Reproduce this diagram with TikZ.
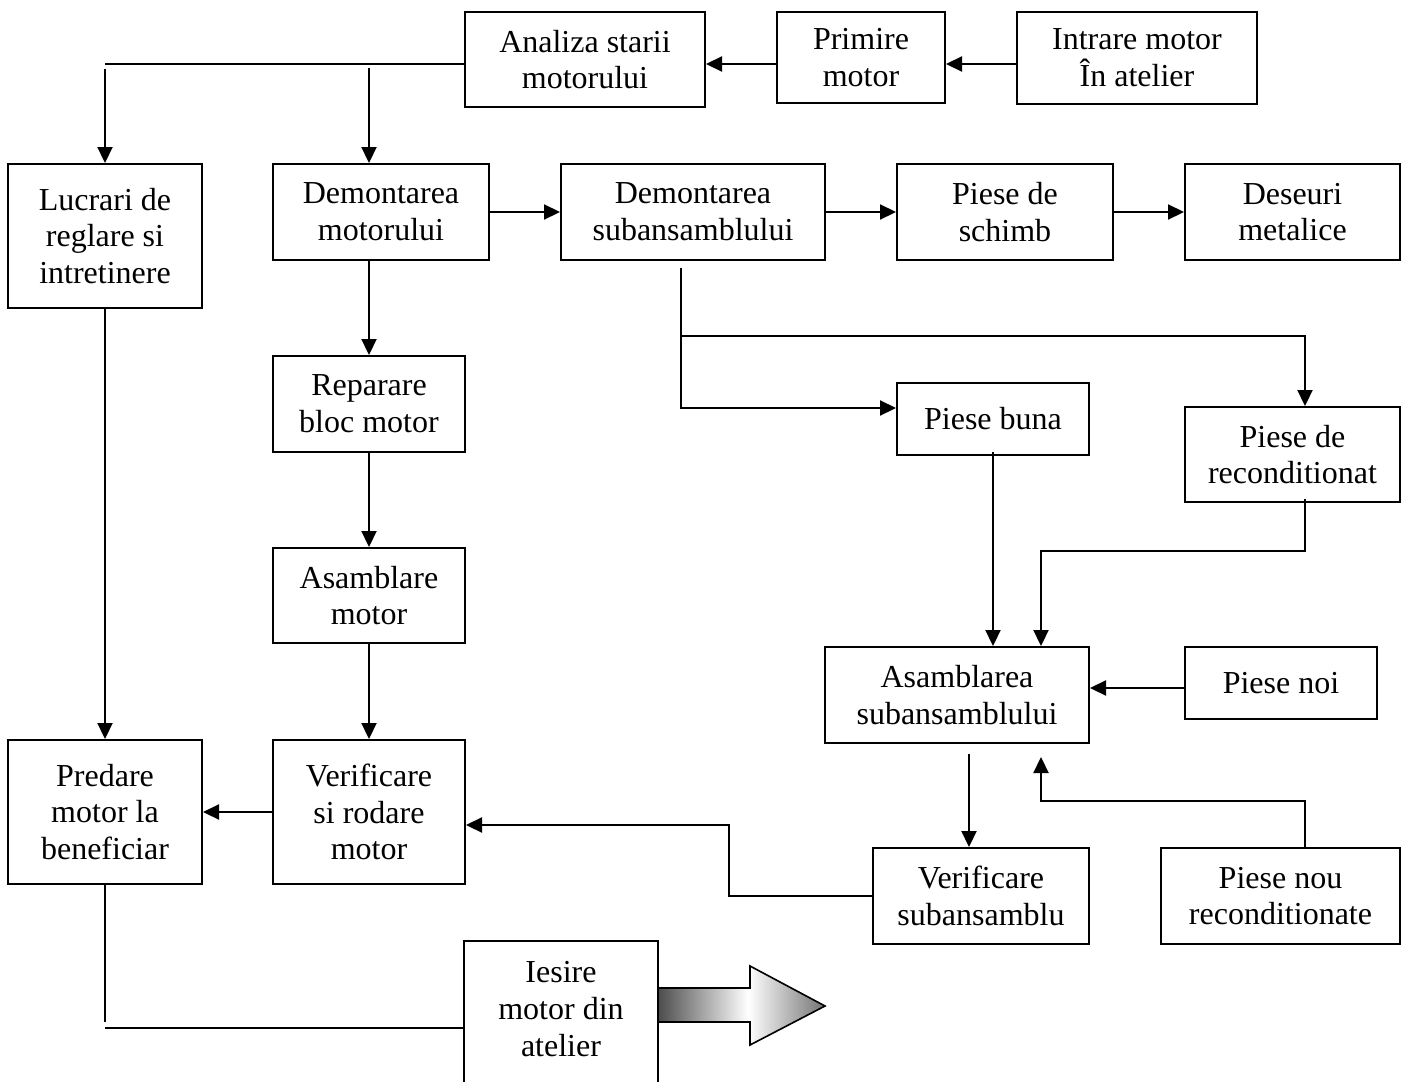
\documentclass[tikz,border=0pt]{standalone}
\usepackage{fontspec}
\setmainfont{Liberation Serif}
\usetikzlibrary{arrows.meta}

% umbrire pentru sageata de iesire
\pgfdeclarehorizontalshading{iesireshade}{100bp}{color(0bp)=(black!70); color(25bp)=(black!70); color(52bp)=(white); color(75bp)=(black!55); color(100bp)=(black!55)}

\tikzset{
  box/.style={draw, line width=1pt, align=center, inner sep=0pt, font=\fontsize{16}{18.4}\selectfont},
  sz/.style 2 args={minimum width=#1*0.5pt, minimum height=#2*0.5pt},
  line/.style={line width=1.1pt},
  arr/.style={line width=1.1pt, -{Triangle[length=8pt,width=7.5pt]}}
}

\begin{document}
\begin{tikzpicture}[x=0.5pt,y=-0.5pt]
\useasboundingbox (0,0) rectangle (1405,1082);
\clip (0,0) rectangle (1405,1082);

% rand de sus
\node[box, sz={240}{95}] (analiza) at (585,59.5) {Analiza starii\\motorului};
\node[box, sz={168}{91}] (primire) at (861,57.5) {Primire\\motor};
\node[box, sz={240}{92}] (intrare) at (1137,58) {Intrare motor\\În atelier};

% al doilea rand
\node[box, sz={194}{144}] (lucrari) at (105,236) {Lucrari de\\reglare si\\intretinere};
\node[box, sz={216}{96}] (demmot) at (381,212) {Demontarea\\motorului};
\node[box, sz={264}{96}] (demsub) at (693,212) {Demontarea\\subansamblului};
\node[box, sz={216}{96}] (schimb) at (1005,212) {Piese de\\schimb};
\node[box, sz={215}{96}] (deseuri) at (1292.5,212) {Deseuri\\metalice};

% coloana motor
\node[box, sz={192}{96}] (reparare) at (369,404) {Reparare\\bloc motor};
\node[box, sz={192}{95}] (asmot) at (369,595.5) {Asamblare\\motor};
\node[box, sz={192}{144}] (verrod) at (369,812) {Verificare\\si rodare\\motor};
\node[box, sz={194}{144}] (predare) at (105,812) {Predare\\motor la\\beneficiar};

% piese
\node[box, sz={192}{72}] (buna) at (993,419) {Piese buna};
\node[box, sz={215}{95}] (recond) at (1292.5,454.5) {Piese de\\reconditionat};
\node[box, sz={264}{96}] (assub) at (957,695) {Asamblarea\\subansamblului};
\node[box, sz={192}{72}] (noi) at (1281,683) {Piese noi};
\node[box, sz={216}{96}] (versub) at (981,896) {Verificare\\subansamblu};
\node[box, sz={239}{96}] (nourec) at (1280.5,896) {Piese nou\\reconditionate};

% iesire (taiat jos)
\node[box, draw=none, sz={192}{134}] (iesire) at (561,1009) {Iesire\\motor din\\atelier};
\draw[line] ([yshift=-20pt]iesire.south west) -- (iesire.north west) -- (iesire.north east) -- ([yshift=-20pt]iesire.south east);
\shadedraw[shading=iesireshade, line width=0.8pt] (iesire.east |- 0,988) -- (750,988) -- (750,966) -- (825,1006) -- (750,1045) -- (750,1022) -- (iesire.east |- 0,1022) -- cycle;

% legaturi sus
\coordinate (ramura) at (105,64);
\draw[arr] (intrare.west |- 0,64) -- (primire.east |- 0,64);
\draw[arr] (primire.west |- 0,64) -- (analiza.east |- 0,64);
\draw[line] (analiza.west |- 0,64) -- (ramura);
\draw[arr] (lucrari.north |- 0,69) -- (lucrari.north);
\draw[arr] (demmot.north -| 369,0) ++(0,-95) -- (demmot.north -| 369,0);

% legaturi orizontale
\draw[arr] (demmot.east) -- (demsub.west);
\draw[arr] (demsub.east) -- (schimb.west);
\draw[arr] (schimb.east) -- (deseuri.west);

% coloana motor
\draw[arr] (demmot.south -| 369,0) -- (reparare.north);
\draw[arr] (reparare.south) -- (asmot.north);
\draw[arr] (asmot.south) -- (verrod.north);
\draw[arr] (verrod.west) -- (predare.east);
\draw[arr] (lucrari.south) -- (predare.north);

% demontare subansamblu
\coordinate (d1) at (681,268);
\draw[arr] (d1) |- (buna.west |- 0,408);
\draw[arr] (681,336) -| (recond.north -| 1305,0);

% spre asamblare subansamblu
\draw[arr] ([yshift=2pt]buna.south) -- (assub.north -| 993,0);
\draw[arr] ([yshift=2pt]recond.south -| 1305,0) -- (1305,551) -- (1041,551) -- (assub.north -| 1041,0);
\draw[arr] (noi.west |- 0,688) -- (assub.east |- 0,688);
\draw[arr] ([yshift=-5pt]assub.south -| 969,0) -- (versub.north -| 969,0);
\draw[arr] (nourec.north -| 1305,0) -- (1305,801) -- (1041,801) -- (1041,757);
\draw[arr] (versub.west) -| (729,825) -- (verrod.east |- 0,825);

% predare -> iesire
\draw[line] (predare.south) -- (105,1022);
\draw[line] (105,1028) -- (iesire.west |- 0,1028);
\end{tikzpicture}
\end{document}
